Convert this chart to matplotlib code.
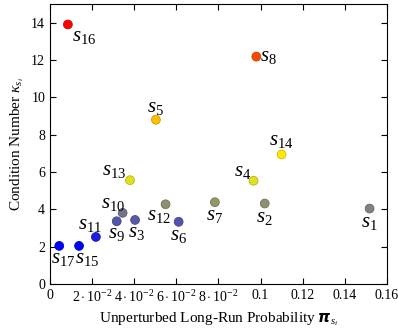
import numpy as np
import matplotlib.pyplot as plt
from matplotlib.colors import LinearSegmentedColormap, to_rgb

plt.rcParams['font.family'] = 'Liberation Serif'
plt.rcParams['mathtext.fontset'] = 'custom'
plt.rcParams['mathtext.rm'] = 'Liberation Serif'
plt.rcParams['mathtext.it'] = 'Liberation Serif:italic'
plt.rcParams['mathtext.bf'] = 'Liberation Serif:bold'

# Data
states = [1, 2, 3, 4, 5, 6, 7, 8, 9, 10, 11, 12, 13, 14, 15, 16, 17]
prob = [0.1518, 0.102, 0.0404, 0.0967, 0.0503, 0.0611, 0.0783, 0.098, 0.0317,
        0.0345, 0.0218, 0.0549, 0.038, 0.110, 0.0138, 0.0085, 0.0044]
cond = [4.04, 4.31, 3.43, 5.53, 8.8, 3.33, 4.38, 12.18, 3.36,
        3.81, 2.52, 4.27, 5.56, 6.94, 2.04, 13.9, 2.04]

xticks = [0, 0.02, 0.04, 0.06, 0.08, 0.1, 0.12, 0.14, 0.16]
xticklabels = ['0', r'$2\cdot10^{-2}$', r'$4\cdot10^{-2}$', r'$6\cdot10^{-2}$',
               r'$8\cdot10^{-2}$', '0.1', '0.12', '0.14', '0.16']
yticks = [0, 2, 4, 6, 8, 10, 12, 14]

# label placement (offset in points, ha, va)
place = {
    1: (0, -3, 'center', 'top'), 2: (0, -3, 'center', 'top'),
    3: (1, -2, 'center', 'top'), 4: (-2, 0, 'right', 'bottom'),
    5: (0, 2, 'center', 'bottom'), 6: (0, -3, 'center', 'top'),
    7: (0, -3, 'center', 'top'), 8: (3, 0, 'left', 'center'),
    9: (0, -2, 'center', 'top'), 10: (2, 0, 'right', 'bottom'),
    11: (-4, 2, 'center', 'bottom'), 12: (-5, -1, 'center', 'top'),
    13: (-3, 0, 'right', 'bottom'), 14: (0, 3, 'center', 'bottom'),
    15: (6, -2, 'center', 'top'), 16: (3, -2, 'left', 'top'),
    17: (2.5, -2, 'center', 'top'),
}

hot = LinearSegmentedColormap.from_list('hot_pgf', ['blue', 'yellow', 'orange', 'red'])
cmin, cmax = min(cond), max(cond)
fills = [hot((c - cmin) / (cmax - cmin)) for c in cond]
edges = [tuple(0.8 * np.array(to_rgb(f))) for f in fills]

fig = plt.figure(figsize=(3.98, 3.29), dpi=100)
ax = fig.add_axes([0.1256, 0.1368, 0.8464, 0.8512])

ax.scatter(prob, cond, s=40, c=fills, edgecolors=edges, linewidths=0.6, zorder=3)

for s, x, y in zip(states, prob, cond):
    dx, dy, ha, va = place[s]
    ax.annotate(r'$s_{%d}$' % s, (x, y), xytext=(dx, dy), textcoords='offset points',
                ha=ha, va=va, fontsize=15)

ax.set_xlim(0, 0.16)
ax.set_ylim(0, 15)
ax.set_xticks(xticks)
ax.set_xticklabels(xticklabels)
ax.set_yticks(yticks)
ax.tick_params(direction='in', top=True, right=True, labelsize=10, length=4)
ax.set_xlabel(r'Unperturbed Long-Run Probability $\boldsymbol{\pi}_{s_i}$', fontsize=11)
ax.set_ylabel(r'Condition Number $\kappa_{s_i}$', fontsize=11)

fig.savefig('out.png', dpi=100)
